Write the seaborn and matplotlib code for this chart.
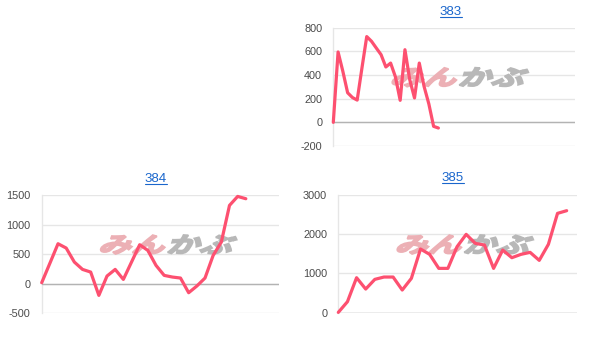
import numpy as np
import pandas as pd
import seaborn as sns
import matplotlib
matplotlib.use("Agg")
import matplotlib.pyplot as plt
from matplotlib.textpath import TextPath
from matplotlib.patches import PathPatch
from matplotlib.font_manager import FontProperties
from matplotlib.transforms import Affine2D
from matplotlib.lines import Line2D

# ---- data ----
titles = ["383", "384", "385"]
values_383 = [0, 595, 431, 250, 210, 188, 460, 725, 685, 628, 572, 468, 501, 385, 186,
              614, 361, 206, 501, 304, 156, -34, -48]
values_384 = [17, 345, 676, 603, 366, 242, 197, -197, 130, 242, 73, 366, 659, 563, 310,
              141, 113, 96, -152, -39, 96, 479, 704, 1324, 1476, 1437]
values_385 = [8, 280, 892, 603, 850, 909, 909, 578, 875, 1623, 1487, 1130, 1130, 1682,
              1997, 1767, 1725, 1130, 1597, 1402, 1487, 1538, 1334, 1742, 2532, 2600]
yticks_383 = [-200, 0, 200, 400, 600, 800]
yticks_384 = [-500, 0, 500, 1000, 1500]
yticks_385 = [0, 1000, 2000, 3000]
watermark_a = "みん"
watermark_b = "かぶ"

# ---- style ----
sns.set_theme(style="white")
plt.rcParams['font.family'] = ['Liberation Sans', 'DejaVu Sans']
plt.rcParams['axes.unicode_minus'] = False

LINE = "#fd5070"
GRID = "#e6e6e6"
BASE = "#b3b3b3"
LABEL = "#4a4a4a"
BLUE = "#1a66cc"

W, H = 600, 345
fig = plt.figure(figsize=(W / 100, H / 100), dpi=100)
fig.patch.set_facecolor("white")

# (values, yticks, box(left, top, right, bottom) px, xmax, title center px)
panels = [
    (titles[0], values_383, yticks_383, (333.3, 27.7, 575.0, 146.0), 50.6, (451, 12)),
    (titles[1], values_384, yticks_384, (41.7, 195.0, 279.3, 313.3), 29.1, (156, 179)),
    (titles[2], values_385, yticks_385, (338.3, 195.0, 576.7, 312.7), 26.1, (453, 178)),
]

fp = FontProperties(family='Noto Sans CJK JP', weight='bold')
skew = Affine2D().skew_deg(16, 0)
pa = skew.transform_path(TextPath((0, 0), watermark_a, size=1, prop=fp))
pb = skew.transform_path(TextPath((2.05, 0), watermark_b, size=1, prop=fp))
ea, eb = pa.get_extents(), pb.get_extents()
bx0, by0 = min(ea.x0, eb.x0), min(ea.y0, eb.y0)
bx1, by1 = max(ea.x1, eb.x1), max(ea.y1, eb.y1)

title_texts = []
for title, vals, yt, (l, t, r, b), xmax, (tx, ty) in panels:
    ax = fig.add_axes([l / W, (H - b) / H, (r - l) / W, (b - t) / H])
    df = pd.DataFrame({"x": np.arange(len(vals)), "y": vals})
    sns.lineplot(data=df, x="x", y="y", ax=ax, color=LINE, lw=2.3,
                 clip_on=False, zorder=5)
    ax.set_xlim(0, xmax)
    ax.set_ylim(yt[0], yt[-1])
    ax.set_yticks(yt)
    ax.set_yticklabels([str(v) for v in yt])
    ax.set_xticks([])
    ax.set_xlabel("")
    ax.set_ylabel("")
    ax.set_axisbelow(True)
    ax.grid(axis='y', color=GRID, lw=1)
    for s in ["top", "right", "bottom"]:
        ax.spines[s].set_visible(False)
    ax.spines["left"].set_color(GRID)
    ax.spines["left"].set_linewidth(1)
    ax.axhline(0, color=BASE, lw=1, zorder=3)
    ax.tick_params(axis='y', length=7, width=1, color=GRID, pad=1,
                   labelsize=7.8, labelcolor=LABEL)

    # watermark
    x0, x1 = l + 59, l + 195
    ytop, ybot = H - (t + 40), H - (t + 59)
    tr = (Affine2D().translate(-bx0, -by0)
          .scale((x1 - x0) / (bx1 - bx0), (ytop - ybot) / (by1 - by0))
          .translate(x0, ybot))
    ax.add_artist(PathPatch(pa, transform=tr, facecolor="#ecb0b5", edgecolor="#ecb0b5",
                            lw=1.3, zorder=1, clip_on=False))
    ax.add_artist(PathPatch(pb, transform=tr, facecolor="#b8b8b8", edgecolor="#b8b8b8",
                            lw=1.3, zorder=1, clip_on=False))

    txt = fig.text(tx / W, 1 - ty / H, title, ha="center", va="center",
                   color=BLUE, fontsize=9.5)
    title_texts.append(txt)

fig.canvas.draw()
renderer = fig.canvas.get_renderer()
for txt in title_texts:
    bb = txt.get_window_extent(renderer)
    y = bb.y0 + 1.5
    fig.add_artist(Line2D([bb.x0, bb.x1], [y, y], transform=Affine2D(),
                          color=BLUE, lw=0.8))

fig.savefig("out.png", dpi=100)
